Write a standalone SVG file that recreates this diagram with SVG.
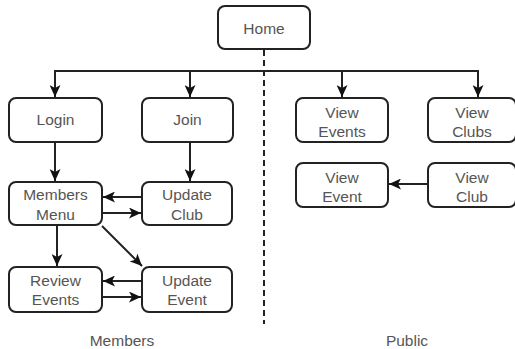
<svg xmlns="http://www.w3.org/2000/svg" width="515" height="349" viewBox="0 0 515 349">
<style>
.box{fill:#fff;stroke:#222;stroke-width:2}
.t{font-family:"Liberation Sans",Arial,sans-serif;font-size:15.5px;fill:#555;text-anchor:middle}
.c{stroke:#222;stroke-width:2;fill:none}
</style>
<defs>
<marker id="a" viewBox="0 0 12 11" refX="12" refY="5.5" markerWidth="12" markerHeight="11" markerUnits="userSpaceOnUse" orient="auto">
<path d="M0,0 L12,5.5 L0,11 L3,5.5 Z" fill="#111"/>
</marker>
</defs>
<g id="connectors">
<line class="c" x1="264" y1="50" x2="264" y2="324" stroke-dasharray="6,4"/>
<line class="c" x1="55" y1="71" x2="478" y2="71"/>
<line class="c" x1="55" y1="70" x2="55" y2="97" marker-end="url(#a)"/>
<line class="c" x1="190" y1="70" x2="190" y2="97" marker-end="url(#a)"/>
<line class="c" x1="342" y1="70" x2="342" y2="97" marker-end="url(#a)"/>
<line class="c" x1="478" y1="70" x2="478" y2="97" marker-end="url(#a)"/>
<line class="c" x1="55" y1="142" x2="55" y2="181" marker-end="url(#a)"/>
<line class="c" x1="190" y1="142" x2="190" y2="181" marker-end="url(#a)"/>
<line class="c" x1="142" y1="197" x2="103" y2="197" marker-end="url(#a)"/>
<line class="c" x1="102" y1="213" x2="141" y2="213" marker-end="url(#a)"/>
<line class="c" x1="57" y1="225" x2="57" y2="266" marker-end="url(#a)"/>
<line class="c" x1="102" y1="226" x2="142" y2="266" marker-end="url(#a)"/>
<line class="c" x1="142" y1="281" x2="103" y2="281" marker-end="url(#a)"/>
<line class="c" x1="102" y1="297" x2="141" y2="297" marker-end="url(#a)"/>
<line class="c" x1="428" y1="184" x2="389" y2="184" marker-end="url(#a)"/>
</g>
<g id="home"><rect class="box" x="218" y="6" width="92" height="43" rx="7"/><text class="t" x="264" y="34">Home</text></g>
<g id="login"><rect class="box" x="9" y="98" width="93" height="44" rx="7"/><text class="t" x="55.5" y="125">Login</text></g>
<g id="join"><rect class="box" x="142" y="98" width="91" height="44" rx="7"/><text class="t" x="187.5" y="125">Join</text></g>
<g id="view-events"><rect class="box" x="296" y="98" width="92" height="44" rx="7"/><text class="t" x="342" y="118">View</text><text class="t" x="342" y="137">Events</text></g>
<g id="view-clubs"><rect class="box" x="428" y="98" width="88" height="44" rx="7"/><text class="t" x="472" y="118">View</text><text class="t" x="472" y="137">Clubs</text></g>
<g id="view-event"><rect class="box" x="296" y="163" width="92" height="44" rx="7"/><text class="t" x="342" y="183">View</text><text class="t" x="342" y="202">Event</text></g>
<g id="view-club"><rect class="box" x="428" y="163" width="88" height="44" rx="7"/><text class="t" x="472" y="183">View</text><text class="t" x="472" y="202">Club</text></g>
<g id="members-menu"><rect class="box" x="9" y="182" width="93" height="43" rx="7"/><text class="t" x="55.5" y="200">Members</text><text class="t" x="55.5" y="220">Menu</text></g>
<g id="update-club"><rect class="box" x="142" y="182" width="90" height="43" rx="7"/><text class="t" x="187" y="200">Update</text><text class="t" x="187" y="220">Club</text></g>
<g id="review-events"><rect class="box" x="9" y="267" width="93" height="45" rx="7"/><text class="t" x="55.5" y="286">Review</text><text class="t" x="55.5" y="305">Events</text></g>
<g id="update-event"><rect class="box" x="142" y="267" width="90" height="45" rx="7"/><text class="t" x="187" y="286">Update</text><text class="t" x="187" y="305">Event</text></g>
<g id="labels"><text class="t" x="122" y="346">Members</text><text class="t" x="407" y="346">Public</text></g>
</svg>
